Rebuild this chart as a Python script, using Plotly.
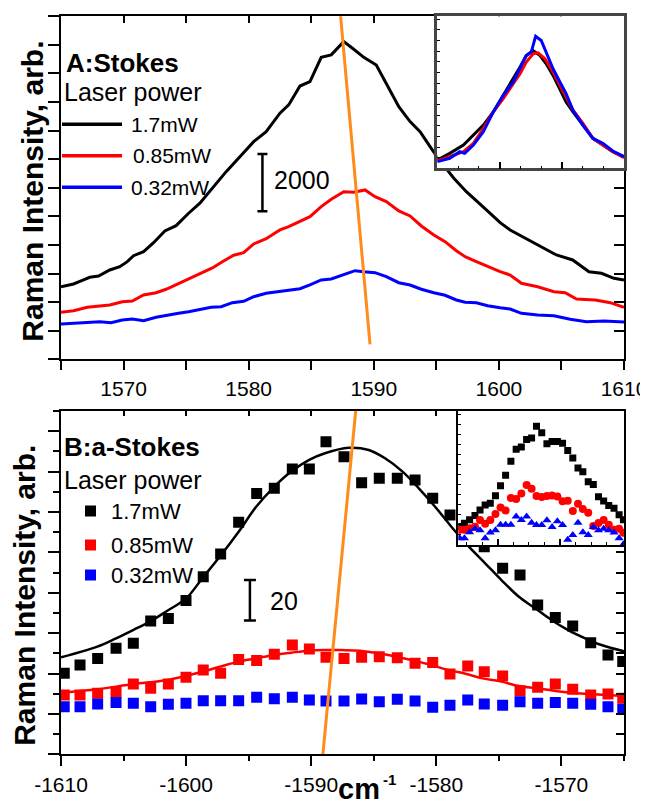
import plotly.graph_objects as go

W, H = 648, 805

# ---------------- Panel A (Stokes) data ----------------
a_names = ["1.7mW", "0.85mW", "0.32mW"]
colors = ["#000000", "#FF0000", "#0000FF"]

a_black_x = [1565.0, 1566.0, 1566.8, 1567.3, 1568.0, 1568.9, 1569.7, 1570.3, 1570.8, 1571.6,
             1572.4, 1573.3, 1574.2, 1575.2, 1576.1, 1577.2, 1578.2, 1579.3, 1580.4, 1581.4,
             1582.5, 1583.2, 1584.1, 1584.9, 1585.8, 1586.6, 1587.6, 1588.4, 1589.2, 1590.2,
             1591.0, 1592.0, 1592.9, 1593.7, 1594.5, 1595.2, 1596.4, 1597.4, 1599.0, 1600.1,
             1600.9, 1602.6, 1604.6, 1605.9, 1607.2, 1608.2, 1609.2, 1610.0]
a_black_y = [2540, 2635, 2775, 2869, 2915, 3125, 3240, 3415, 3625, 3765,
             4080, 4490, 4675, 5110, 5460, 6040, 6565, 7090, 7615, 7965,
             8610, 8900, 9560, 9715, 10565, 10650, 11115, 10845, 10565, 10295,
             9655, 8840, 8315, 7965, 7440, 6995, 6335, 5865, 5225, 4780,
             4525, 4115, 3650, 3475, 3065, 3010, 2835, 2775]

a_red_x = [1565.0, 1566.0, 1567.1, 1568.0, 1568.9, 1569.9, 1570.7, 1571.6, 1572.6, 1573.4,
           1574.3, 1575.2, 1576.1, 1577.1, 1577.9, 1578.8, 1579.6, 1580.4, 1581.4, 1582.5,
           1583.2, 1584.1, 1584.9, 1585.8, 1586.6, 1587.6, 1588.4, 1589.3, 1590.1, 1591.0,
           1592.0, 1592.9, 1593.8, 1594.8, 1595.7, 1596.6, 1597.3, 1598.2, 1599.1, 1600.1,
           1600.9, 1601.8, 1603.1, 1604.4, 1605.3, 1606.2, 1607.7, 1608.9, 1610.0]
a_red_y = [1645, 1700, 1820, 1865, 1900, 2015, 2040, 2250, 2330, 2450,
           2635, 2820, 3010, 3195, 3415, 3640, 3730, 4035, 4220, 4525,
           4640, 4815, 4990, 5340, 5600, 5865, 5845, 5925, 5690, 5515,
           5190, 5015, 4665, 4350, 4115, 3800, 3590, 3415, 3240, 3065,
           2950, 2660, 2540, 2365, 2330, 2110, 2075, 1980, 1820]

a_blue_x = [1565.0, 1566.0, 1567.3, 1568.1, 1569.0, 1569.9, 1570.7, 1571.6, 1572.6, 1573.5,
            1574.4, 1575.2, 1576.0, 1577.0, 1577.8, 1578.7, 1579.6, 1580.4, 1581.4, 1582.5,
            1583.2, 1584.1, 1584.9, 1585.8, 1586.6, 1587.6, 1588.5, 1589.2, 1590.1, 1591.0,
            1592.0, 1592.9, 1593.8, 1594.8, 1595.7, 1596.6, 1597.3, 1598.2, 1599.1, 1600.1,
            1600.9, 1601.8, 1603.1, 1604.4, 1605.7, 1607.0, 1608.4, 1610.0]
a_blue_y = [1235, 1260, 1280, 1315, 1280, 1375, 1410, 1350, 1470, 1550,
            1610, 1665, 1725, 1820, 1840, 1980, 2030, 2190, 2310, 2365,
            2425, 2470, 2600, 2775, 2810, 2950, 3100, 3065, 3030, 2890,
            2680, 2600, 2450, 2330, 2240, 2075, 1995, 1980, 1875, 1805,
            1760, 1610, 1550, 1525, 1400, 1315, 1340, 1305]

a_shift_x = [1587.3, 1589.7]
a_shift_y = [12240, 524]

a_bar_x = [1581.1]
a_bar_y = [6180]
a_bar_err = [1000]
a_bar_label = "2000"
a_bar_label_x = 1581.85
a_bar_label_y = 6256

# inset A (normalised spectra)
ai_black_x = [1570.0, 1572.0, 1574.2, 1575.8, 1577.4, 1579.0, 1580.6, 1582.2, 1583.3, 1584.3,
              1585.4, 1586.5, 1587.5, 1588.6, 1589.7, 1590.7, 1591.8, 1593.4, 1595.0, 1596.6,
              1598.2, 1600.0]
ai_black_y = [5.5, 9.8, 15.3, 21.8, 28.4, 37.1, 48.0, 59.0, 66.6, 74.2,
              77.5, 74.2, 68.8, 61.1, 52.4, 43.7, 37.1, 28.4, 19.7, 15.3,
              10.9, 7.6]
ai_red_x = [1570.0, 1572.0, 1574.2, 1575.8, 1577.4, 1579.0, 1580.6, 1582.2, 1583.3, 1584.3,
            1585.4, 1586.2, 1587.3, 1588.6, 1589.7, 1590.7, 1591.8, 1593.4, 1595.0, 1596.6,
            1598.2, 1600.0]
ai_red_y = [4.8, 7.6, 10.9, 16.4, 26.2, 37.1, 45.9, 55.7, 62.2, 69.9,
            75.3, 76.0, 72.1, 63.3, 54.6, 46.9, 38.2, 29.5, 19.7, 15.3,
            10.9, 7.0]
ai_blue_x = [1570.0, 1572.0, 1573.6, 1574.4, 1575.8, 1577.4, 1579.0, 1580.6, 1582.2, 1583.5,
             1584.3, 1585.1, 1585.8, 1586.7, 1587.5, 1588.6, 1589.7, 1590.7, 1591.8, 1593.4,
             1595.0, 1596.6, 1598.2, 1600.0]
ai_blue_y = [4.4, 6.6, 10.9, 9.8, 15.3, 24.0, 37.1, 48.0, 56.8, 67.7,
             74.2, 76.4, 86.9, 84.1, 76.4, 65.5, 56.8, 49.1, 38.2, 28.4,
             19.7, 16.4, 11.4, 7.6]

# ---------------- Panel B (anti-Stokes) data ----------------
b_x = [-1609.74, -1608.48, -1607.07, -1605.60, -1604.22, -1602.83, -1601.42, -1600.01,
       -1598.63, -1597.24, -1595.80, -1594.36, -1592.95, -1591.51, -1590.15, -1588.82,
       -1587.38, -1585.97, -1584.56, -1583.12, -1581.70, -1580.29, -1578.91, -1577.49,
       -1576.17, -1574.70, -1573.31, -1571.90, -1570.49, -1569.10, -1567.66, -1566.28,
       -1565.10]
b_black = [40.1, 44.2, 47.5, 52.5, 55.0, 66.0, 67.3, 76.1, 87.9, 99.2, 114.9, 129.2,
           131.7, 141.3, 141.3, 154.8, 147.4, 134.5, 136.7, 136.7, 135.8, 126.8, 118.5,
           107.0, 102.8, 92.1, 88.8, 73.9, 67.8, 63.5, 55.3, 49.2, 45.9]
b_red = [29.4, 29.4, 30.2, 31.0, 34.8, 32.7, 34.8, 38.1, 41.7, 40.1, 47.0, 46.4, 49.5,
         54.1, 52.1, 48.0, 47.5, 48.0, 48.3, 47.8, 45.1, 45.4, 39.8, 43.7, 40.9, 38.8,
         31.5, 33.2, 34.8, 32.2, 29.4, 29.9, 27.7]
b_blue = [23.6, 23.6, 24.9, 25.6, 25.3, 23.6, 24.8, 25.3, 26.5, 26.5, 26.5, 28.2, 27.5,
          28.2, 26.9, 26.4, 26.4, 27.4, 26.0, 27.2, 26.4, 23.3, 24.3, 26.9, 24.9, 24.3,
          26.0, 25.3, 25.6, 25.3, 24.8, 23.6, 22.3]

bf_black_x = [-1610.0, -1607.1, -1605.6, -1604.2, -1602.9, -1601.5, -1600.0, -1598.7,
              -1597.3, -1595.8, -1594.4, -1593.0, -1591.6, -1590.2, -1588.9, -1587.0,
              -1585.4, -1584.1, -1582.7, -1581.4, -1580.1, -1578.8, -1577.4, -1576.1,
              -1574.8, -1573.4, -1572.1, -1570.8, -1569.5, -1568.1, -1566.8, -1565.0]
bf_black_y = [48.0, 53.3, 57.4, 61.6, 65.7, 71.1, 77.2, 87.2, 97.9, 110.2, 122.6, 132.2,
              140.0, 145.7, 149.1, 151.8, 150.7, 146.6, 140.0, 131.7, 122.6, 112.7, 102.8,
              94.6, 86.3, 78.0, 72.3, 66.5, 61.6, 57.4, 54.1, 51.0]
bf_red_x = [-1610.0, -1607.1, -1604.2, -1601.5, -1598.7, -1597.3, -1595.8, -1594.4,
            -1593.0, -1591.6, -1590.2, -1588.9, -1587.5, -1586.1, -1584.6, -1583.2,
            -1581.8, -1580.4, -1579.0, -1577.6, -1576.3, -1574.8, -1573.4, -1572.0,
            -1570.6, -1569.2, -1567.8, -1566.4, -1565.0]
bf_red_y = [30.5, 32.2, 34.8, 36.8, 40.9, 43.4, 45.9, 47.5, 49.2, 50.3, 51.3, 51.6, 51.6,
            51.3, 50.0, 48.3, 46.4, 44.2, 41.7, 39.8, 37.6, 36.0, 33.8, 32.7, 31.5, 30.5,
            29.9, 29.4, 28.9]

b_shift_x = [-1586.4, -1589.1]
b_shift_y = [173, -2]

b_bar_x = [-1594.9]
b_bar_y = [76.3]
b_bar_err = [10]
b_bar_label = "20"
b_bar_label_x = -1593.43
b_bar_label_y = 75.8

# inset B (normalised data, same wavenumbers)
bi_black = [13.8, 16.3, 18.8, 22.0, 26.2, 29.9, 31.1, 36.8, 44.2, 52.1, 62.5, 71.4, 73.1,
            78.8, 79.8, 88.6, 83.7, 75.6, 77.3, 77.3, 76.0, 70.6, 64.9, 57.5, 54.6, 47.2,
            45.2, 36.0, 32.8, 29.4, 27.4, 22.5, 18.8]
bi_red = [11.4, 11.4, 12.5, 13.6, 18.7, 15.9, 18.7, 23.1, 28.0, 25.8, 35.1, 34.3, 38.5,
          44.7, 42.0, 36.5, 35.8, 36.5, 36.9, 36.2, 32.6, 33.0, 25.4, 30.7, 26.9, 24.1,
          14.2, 16.5, 18.7, 15.2, 11.4, 12.1, 9.1]
bi_blue = [5.1, 5.1, 9.6, 12.1, 11.0, 5.1, 9.3, 11.0, 15.2, 15.2, 15.2, 21.2, 18.7, 21.2,
           16.6, 14.9, 14.9, 18.4, 13.5, 17.7, 14.9, 4.0, 7.5, 16.6, 9.6, 7.5, 13.5, 11.0,
           12.1, 11.0, 9.3, 5.1, 0.5]

a_tick_vals = [1570, 1580, 1590, 1600, 1610]
a_tick_text = ["1570", "1580", "1590", "1600", "1610"]
b_tick_vals = [-1610, -1600, -1590, -1580, -1570]
b_tick_text = ["-1610", "-1600", "-1590", "-1580", "-1570"]

# ---------------- helpers (screen pixels -> paper; page body has an 8px margin) ----------------
OFF = 8


def fx(px):
    return (px - OFF) / W


def fy(py):
    return 1 - (py - OFF) / H


FONT = "Liberation Sans, Arial, sans-serif"
ORANGE = "#FF8C1A"

fig = go.Figure()

# Panel A curves
for xs, ys, c, n in zip([a_black_x, a_red_x, a_blue_x], [a_black_y, a_red_y, a_blue_y], colors, a_names):
    fig.add_trace(go.Scatter(x=xs, y=ys, mode="lines", line=dict(color=c, width=3),
                             name=n, showlegend=False, xaxis="x", yaxis="y"))
fig.add_trace(go.Scatter(x=a_shift_x, y=a_shift_y, mode="lines", line=dict(color=ORANGE, width=3),
                         showlegend=False, xaxis="x", yaxis="y"))
fig.add_trace(go.Scatter(x=a_bar_x, y=a_bar_y, mode="markers", marker=dict(size=1, opacity=0),
                         error_y=dict(type="data", array=a_bar_err, color="black", thickness=2.5, width=5),
                         showlegend=False, xaxis="x", yaxis="y"))
# overlay axis anchors (invisible)
fig.add_trace(go.Scatter(x=[a_black_x[0]], y=[a_black_y[0]], mode="markers", marker=dict(opacity=0, size=1),
                         hoverinfo="skip", showlegend=False, xaxis="x5", yaxis="y"))
fig.add_trace(go.Scatter(x=[a_black_x[0]], y=[a_black_y[0]], mode="markers", marker=dict(opacity=0, size=1),
                         hoverinfo="skip", showlegend=False, xaxis="x", yaxis="y5"))

# Panel B data and fits
b_series = [b_black, b_red, b_blue]
for ys, c, n in zip(b_series, colors, a_names):
    fig.add_trace(go.Scatter(x=b_x, y=ys, mode="markers", marker=dict(symbol="square", size=11, color=c),
                             name=n, showlegend=False, xaxis="x2", yaxis="y2"))
fig.add_trace(go.Scatter(x=bf_black_x, y=bf_black_y, mode="lines", line=dict(color="black", width=2.5, shape="spline"),
                         showlegend=False, xaxis="x2", yaxis="y2"))
fig.add_trace(go.Scatter(x=bf_red_x, y=bf_red_y, mode="lines", line=dict(color="#FF0000", width=2.5, shape="spline"),
                         showlegend=False, xaxis="x2", yaxis="y2"))
fig.add_trace(go.Scatter(x=b_shift_x, y=b_shift_y, mode="lines", line=dict(color=ORANGE, width=3),
                         showlegend=False, xaxis="x2", yaxis="y2"))
fig.add_trace(go.Scatter(x=b_bar_x, y=b_bar_y, mode="markers", marker=dict(size=1, opacity=0),
                         error_y=dict(type="data", array=b_bar_err, color="black", thickness=2.5, width=6),
                         showlegend=False, xaxis="x2", yaxis="y2"))
fig.add_trace(go.Scatter(x=[b_x[0]], y=[b_black[0]], mode="markers", marker=dict(opacity=0, size=1),
                         hoverinfo="skip", showlegend=False, xaxis="x6", yaxis="y2"))
fig.add_trace(go.Scatter(x=[b_x[0]], y=[b_black[0]], mode="markers", marker=dict(opacity=0, size=1),
                         hoverinfo="skip", showlegend=False, xaxis="x2", yaxis="y6"))

# Inset A
for xs, ys, c in zip([ai_black_x, ai_red_x, ai_blue_x], [ai_black_y, ai_red_y, ai_blue_y], colors):
    fig.add_trace(go.Scatter(x=xs, y=ys, mode="lines", line=dict(color=c, width=3),
                             showlegend=False, xaxis="x3", yaxis="y3"))

# Inset B
fig.add_trace(go.Scatter(x=b_x, y=bi_black, mode="markers", marker=dict(symbol="square", size=7, color="black"),
                         showlegend=False, xaxis="x4", yaxis="y4"))
fig.add_trace(go.Scatter(x=b_x, y=bi_red, mode="markers", marker=dict(symbol="circle", size=8, color="#FF0000"),
                         showlegend=False, xaxis="x4", yaxis="y4"))
fig.add_trace(go.Scatter(x=b_x, y=bi_blue, mode="markers", marker=dict(symbol="triangle-up", size=8, color="#0000FF"),
                         showlegend=False, xaxis="x4", yaxis="y4"))

# ---------------- axes ----------------
base = dict(showgrid=False, zeroline=False, showline=True, linecolor="black", linewidth=2,
            automargin=False, tickcolor="black", tickwidth=2,
            tickfont=dict(family=FONT, size=21, color="black"))
inset = dict(showgrid=False, zeroline=False, showline=True, mirror=True, automargin=False,
             showticklabels=False, tickcolor="black")

dom_x = [fx(61), fx(624)]
dom_ya = [fy(359.3), fy(16.3)]
dom_yb = [fy(754.3), fy(411)]

fig.update_layout(
    xaxis=dict(base, domain=dom_x, anchor="y", range=[1565, 1610], tickmode="array",
               tickvals=a_tick_vals, ticktext=a_tick_text, ticks="outside", ticklen=9,
               minor=dict(dtick=5, tick0=1565, ticks="outside", ticklen=9, tickwidth=2, tickcolor="black")),
    xaxis5=dict(base, overlaying="x", side="top", anchor="y", range=[1565, 1610], dtick=5, tick0=1565,
                ticks="inside", ticklen=7, showticklabels=False),
    yaxis=dict(base, domain=dom_ya, anchor="x", range=[0, 12000], dtick=1000, tick0=0,
               ticks="outside", ticklen=11, showticklabels=False),
    yaxis5=dict(base, overlaying="y", side="right", anchor="x", range=[0, 12000], dtick=1000, tick0=0,
                ticks="inside", ticklen=10, showticklabels=False),
    xaxis2=dict(base, domain=dom_x, anchor="y2", range=[-1610, -1565], tickmode="array",
                tickvals=b_tick_vals, ticktext=b_tick_text, ticks="outside", ticklen=10,
                minor=dict(dtick=5, tick0=-1610, ticks="outside", ticklen=5, tickwidth=2, tickcolor="black")),
    xaxis6=dict(base, overlaying="x2", side="top", anchor="y2", range=[-1610, -1565], dtick=5, tick0=-1610,
                ticks="inside", ticklen=5, showticklabels=False),
    yaxis2=dict(base, domain=dom_yb, anchor="x2", range=[0, 170], dtick=20, tick0=0,
                ticks="outside", ticklen=11, showticklabels=False,
                minor=dict(dtick=10, tick0=0, ticks="outside", ticklen=6, tickwidth=2, tickcolor="black")),
    yaxis6=dict(base, overlaying="y2", side="right", anchor="x2", range=[0, 170], dtick=10, tick0=0,
                ticks="inside", ticklen=8, showticklabels=False),
    xaxis3=dict(inset, linecolor="#444444", linewidth=2.5,
                domain=[fx(437.3), fx(624)], anchor="y3", range=[1570, 1600],
                tickmode="array", tickvals=[1580, 1590], ticks="inside", ticklen=7, tickwidth=1.5,
                minor=dict(dtick=10 / 3, tick0=1580, ticks="inside", ticklen=3, tickwidth=1, tickcolor="black")),
    yaxis3=dict(inset, linecolor="#444444", linewidth=2.5,
                domain=[fy(168.3), fy(16.3)], anchor="x3", range=[0, 100],
                dtick=7, ticks="inside", ticklen=3, tickwidth=1),
    xaxis4=dict(inset, linecolor="black", linewidth=1.5,
                domain=[fx(458.3), fx(624)], anchor="y4", range=[-1610.15, -1564.94],
                tickmode="array", tickvals=[-1599.4, -1582.4], ticks="inside", ticklen=6, tickwidth=1.5,
                minor=dict(dtick=4.25, tick0=-1599.4, ticks="inside", ticklen=3, tickwidth=1, tickcolor="black")),
    yaxis4=dict(inset, linecolor="black", linewidth=1.5,
                domain=[fy(545), fy(411)], anchor="x4", range=[0, 100],
                dtick=7.5, ticks="inside", ticklen=3, tickwidth=1),
)

# ---------------- texts ----------------
ann = []


def txt(text, x, y, size, xanchor="left", yanchor="middle", xref="paper", yref="paper", angle=0):
    ann.append(dict(text=text, x=x, y=y, xref=xref, yref=yref, xanchor=xanchor, yanchor=yanchor,
                    showarrow=False, textangle=angle, font=dict(family=FONT, size=size, color="black")))


# y-axis titles
txt("<b>Raman Intensity, arb.</b>", fx(33), fy(191.7), 30, xanchor="center", angle=-90)
txt("<b>Raman Intensity, arb.</b>", fx(25), fy(595.8), 30, xanchor="center", angle=-90)
# x-axis title
txt("<b>cm</b>", fx(359), fy(789), 29, xanchor="center")
txt("<b>-1</b>", fx(381), fy(779), 15, xanchor="left")

# panel A legend texts
txt("<b>A:Stokes</b>", fx(64), fy(63), 26)
txt("Laser power", fx(62), fy(92), 25)
for n, ly, lx in zip(a_names, [124.3, 155.7, 187.3], [129, 131, 129]):
    txt(n, fx(lx), fy(ly), 21)
# panel B legend texts
txt("<b>B:a-Stokes</b>", fx(62), fy(447), 26)
txt("Laser power", fx(62), fy(480), 25)
for n, ly in zip(a_names, [511, 545, 575]):
    txt(n, fx(109), fy(ly), 22)

# scale labels
txt(a_bar_label, a_bar_label_x, a_bar_label_y, 25, xref="x", yref="y")
txt(b_bar_label, b_bar_label_x, b_bar_label_y, 25, xref="x2", yref="y2")

# legend glyphs
shapes = []
for c, ly in zip(colors, [124.3, 155.7, 187.3]):
    shapes.append(dict(type="line", xref="paper", yref="paper", x0=fx(62), x1=fx(122), y0=fy(ly), y1=fy(ly),
                       line=dict(color=c, width=3.5)))
for c, ly in zip(colors, [511, 545, 575]):
    shapes.append(dict(type="rect", xref="paper", yref="paper", x0=fx(85), x1=fx(96), y0=fy(ly + 5.5),
                       y1=fy(ly - 5.5), fillcolor=c, line=dict(width=0)))

fig.update_layout(
    template="none",
    width=W, height=H, margin=dict(l=0, r=0, t=0, b=0, pad=0),
    paper_bgcolor="white", plot_bgcolor="white",
    showlegend=False, annotations=ann, shapes=shapes,
    font=dict(family=FONT, color="black"),
)

fig.write_html("out.html")
